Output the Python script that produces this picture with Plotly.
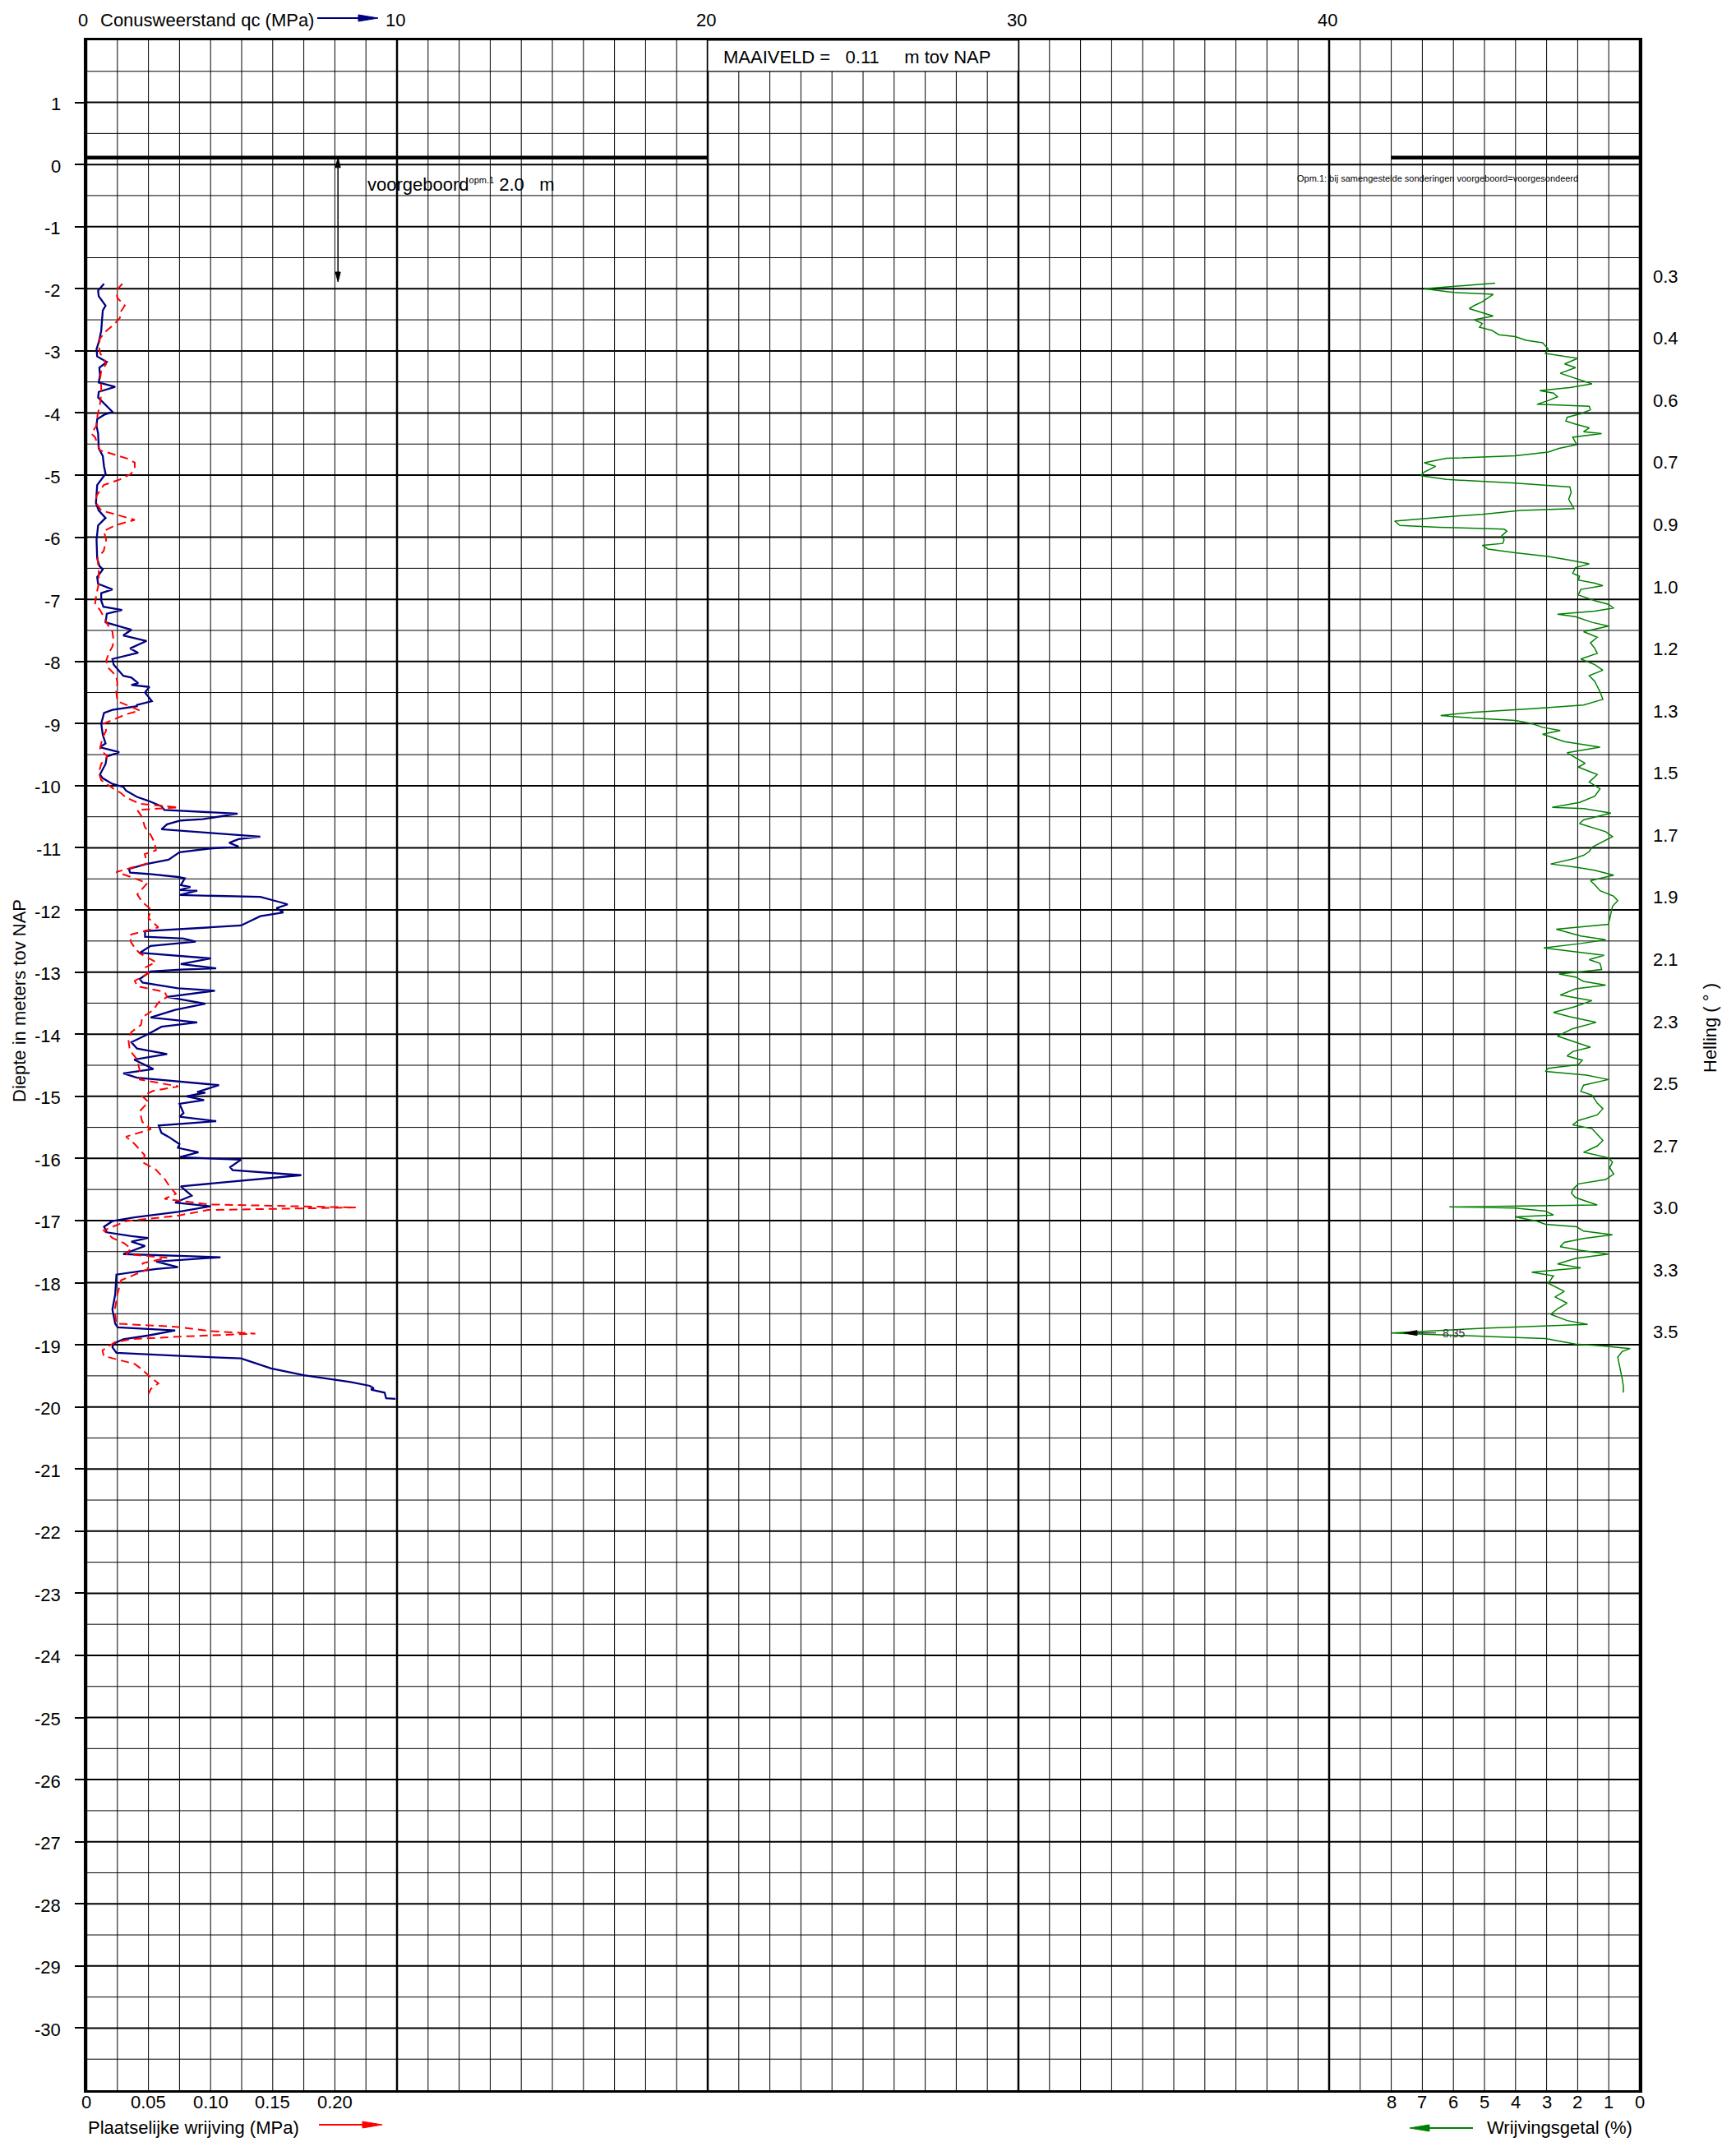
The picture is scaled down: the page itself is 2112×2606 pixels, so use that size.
import plotly.graph_objects as go

# ---------------- sounding data ----------------
# cone resistance qc (MPa) against depth (m tov NAP)
QC_DEPTH = [-1.92, -2.03, -2.12, -2.27, -2.35, -2.68, -2.86, -2.97, -3.09, -3.18,
            -3.27, -3.39, -3.51, -3.58, -3.66, -3.75, -3.98, -4.03, -4.10, -4.21,
            -4.33, -4.57, -4.69, -4.86, -4.98, -5.16, -5.45, -5.57, -5.69, -5.81,
            -6.04, -6.34, -6.46, -6.52, -6.64, -6.75, -6.84, -6.90, -7.02, -7.12,
            -7.17, -7.23, -7.37, -7.49, -7.58, -7.67, -7.79, -7.86, -7.96, -8.05,
            -8.23, -8.26, -8.35, -8.38, -8.41, -8.50, -8.64, -8.70, -8.72, -8.78,
            -8.83, -9.00, -9.18, -9.32, -9.38, -9.46, -9.53, -9.65, -9.82, -9.88,
            -9.97, -10.02, -10.08, -10.18, -10.24, -10.33, -10.39, -10.45, -10.54, -10.56,
            -10.62, -10.70, -10.76, -10.82, -10.86, -10.92, -10.98, -11.01, -11.07, -11.19,
            -11.26, -11.34, -11.40, -11.42, -11.47, -11.49, -11.60, -11.63, -11.68, -11.69,
            -11.76, -11.79, -11.87, -11.91, -11.97, -12.04, -12.10, -12.25, -12.28, -12.34,
            -12.43, -12.46, -12.51, -12.58, -12.69, -12.78, -12.87, -12.94, -12.96, -12.99,
            -13.11, -13.17, -13.26, -13.30, -13.40, -13.51, -13.61, -13.73, -13.81, -13.88,
            -14.00, -14.13, -14.23, -14.32, -14.41, -14.56, -14.63, -14.70, -14.82, -14.93,
            -14.94, -15.00, -15.06, -15.12, -15.27, -15.33, -15.40, -15.47, -15.59, -15.65,
            -15.77, -15.83, -15.90, -15.98, -16.02, -16.14, -16.19, -16.27, -16.45, -16.60,
            -16.71, -16.77, -16.86, -16.95, -17.01, -17.10, -17.19, -17.25, -17.28, -17.34,
            -17.41, -17.54, -17.59, -17.66, -17.75, -17.78, -17.81, -17.87, -18.19, -18.43,
            -18.66, -18.72, -18.77, -18.85, -18.91, -18.98, -19.04, -19.13, -19.18, -19.22,
            -19.38, -19.49, -19.60, -19.66, -19.70, -19.72, -19.77, -19.86, -19.87]
QC_MPA = [0.57, 0.38, 0.40, 0.62, 0.53, 0.48, 0.40, 0.33, 0.35, 0.66,
          0.42, 0.44, 0.40, 0.93, 0.40, 0.38, 0.84, 0.57, 0.35, 0.33,
          0.38, 0.40, 0.53, 0.57, 0.62, 0.35, 0.31, 0.40, 0.62, 0.38,
          0.33, 0.35, 0.42, 0.53, 0.35, 0.38, 0.84, 0.48, 0.48, 0.55,
          1.15, 0.66, 0.62, 1.45, 1.19, 1.94, 1.41, 1.67, 0.84, 0.88,
          1.19, 1.45, 1.67, 1.45, 2.03, 1.89, 2.11, 1.63, 1.63, 0.84,
          0.57, 0.48, 0.53, 0.62, 0.44, 1.06, 0.66, 0.62, 0.44, 0.53,
          0.84, 1.19, 1.28, 1.63, 1.98, 2.42, 2.51, 4.87, 3.74, 3.04,
          2.60, 2.42, 4.00, 5.60, 4.90, 4.60, 4.90, 4.00, 3.00, 2.65,
          1.94, 1.37, 1.41, 1.98, 2.96, 3.17, 3.04, 3.35, 3.00, 3.57,
          3.00, 5.60, 6.20, 6.48, 6.12, 6.34, 5.60, 4.98, 4.00, 1.89,
          1.89, 3.13, 3.52, 2.07, 1.72, 4.00, 3.04, 4.18, 3.04, 2.07,
          1.72, 1.81, 2.95, 4.14, 2.60, 3.83, 2.86, 2.07, 3.57, 2.42,
          1.98, 1.45, 1.63, 2.60, 1.54, 2.16, 1.19, 1.63, 4.27, 3.57,
          3.83, 3.22, 3.79, 3.00, 3.13, 3.00, 4.18, 2.33, 2.42, 2.64,
          3.00, 2.95, 3.61, 3.00, 4.98, 4.63, 4.71, 6.92, 3.04, 3.39,
          2.86, 4.00, 2.95, 1.54, 0.84, 0.57, 0.66, 1.45, 1.98, 1.45,
          1.89, 1.19, 4.32, 2.25, 2.95, 2.25, 1.81, 0.97, 0.93, 0.84,
          0.93, 1.01, 2.86, 2.00, 1.19, 0.88, 0.84, 0.97, 3.04, 4.98,
          5.95, 7.00, 8.50, 9.12, 9.25, 9.16, 9.60, 9.65, 9.95]

# local sleeve friction fs (MPa)
FS_DEPTH = [-1.92, -2.03, -2.15, -2.27, -2.36, -2.47, -2.56, -2.68, -2.80, -2.91,
            -3.03, -3.21, -3.33, -3.45, -3.57, -3.69, -3.86, -4.04, -4.21, -4.33,
            -4.39, -4.51, -4.60, -4.66, -4.74, -4.80, -4.89, -4.98, -5.07, -5.16,
            -5.34, -5.45, -5.57, -5.63, -5.72, -5.81, -5.90, -6.04, -6.22, -6.34,
            -6.52, -6.75, -6.93, -7.08, -7.17, -7.28, -7.40, -7.52, -7.67, -7.76,
            -7.87, -7.99, -8.11, -8.23, -8.35, -8.47, -8.64, -8.73, -8.79, -8.85,
            -8.94, -9.00, -9.11, -9.23, -9.41, -9.53, -9.65, -9.79, -9.91, -10.05,
            -10.12, -10.19, -10.29, -10.35, -10.39, -10.51, -10.66, -10.80, -10.92, -11.04,
            -11.10, -11.25, -11.39, -11.47, -11.57, -11.75, -11.87, -11.99, -12.13, -12.28,
            -12.34, -12.40, -12.52, -12.61, -12.70, -12.84, -12.93, -13.02, -13.14, -13.23,
            -13.32, -13.40, -13.49, -13.61, -13.73, -13.85, -13.97, -14.11, -14.26, -14.41,
            -14.59, -14.73, -14.84, -14.91, -15.00, -15.09, -15.24, -15.41, -15.53, -15.65,
            -15.77, -15.95, -16.06, -16.18, -16.33, -16.45, -16.57, -16.65, -16.74, -16.79,
            -16.83, -16.92, -17.01, -17.16, -17.28, -17.36, -17.45, -17.54, -17.60, -17.69,
            -17.78, -17.87, -17.96, -18.19, -18.43, -18.66, -18.71, -18.78, -18.82, -18.87,
            -18.91, -18.96, -19.04, -19.09, -19.18, -19.24, -19.31, -19.40, -19.53, -19.62,
            -19.71, -19.79]
FS_MPA = [0.029, 0.024, 0.025, 0.031, 0.028, 0.027, 0.023, 0.016, 0.011, 0.010,
          0.011, 0.016, 0.012, 0.011, 0.012, 0.012, 0.011, 0.009, 0.008, 0.004,
          0.007, 0.009, 0.011, 0.021, 0.034, 0.039, 0.039, 0.036, 0.027, 0.014,
          0.008, 0.008, 0.012, 0.023, 0.039, 0.023, 0.014, 0.016, 0.014, 0.009,
          0.010, 0.010, 0.008, 0.007, 0.011, 0.014, 0.017, 0.021, 0.022, 0.021,
          0.018, 0.016, 0.018, 0.024, 0.025, 0.024, 0.025, 0.036, 0.043, 0.032,
          0.021, 0.014, 0.016, 0.013, 0.011, 0.017, 0.012, 0.010, 0.012, 0.022,
          0.028, 0.032, 0.043, 0.074, 0.041, 0.045, 0.047, 0.052, 0.055, 0.056,
          0.047, 0.049, 0.024, 0.036, 0.049, 0.041, 0.045, 0.052, 0.050, 0.058,
          0.047, 0.035, 0.036, 0.039, 0.043, 0.056, 0.047, 0.050, 0.039, 0.041,
          0.063, 0.065, 0.058, 0.054, 0.045, 0.044, 0.036, 0.034, 0.035, 0.041,
          0.043, 0.043, 0.074, 0.054, 0.045, 0.050, 0.043, 0.045, 0.052, 0.032,
          0.039, 0.047, 0.045, 0.056, 0.063, 0.067, 0.072, 0.063, 0.098, 0.217,
          0.098, 0.074, 0.032, 0.014, 0.021, 0.030, 0.036, 0.032, 0.065, 0.045,
          0.050, 0.039, 0.028, 0.025, 0.023, 0.024, 0.072, 0.100, 0.136, 0.074,
          0.036, 0.023, 0.017, 0.013, 0.014, 0.025, 0.039, 0.045, 0.052, 0.058,
          0.052, 0.050]

# friction ratio Rf (%)
RF_DEPTH = [-1.91, -2.00, -2.06, -2.09, -2.21, -2.27, -2.32, -2.38, -2.44, -2.50,
            -2.56, -2.62, -2.67, -2.74, -2.77, -2.83, -2.87, -2.92, -2.97, -3.04,
            -3.12, -3.21, -3.27, -3.36, -3.45, -3.53, -3.59, -3.64, -3.68, -3.74,
            -3.80, -3.86, -3.89, -3.95, -4.01, -4.07, -4.13, -4.18, -4.24, -4.30,
            -4.33, -4.39, -4.51, -4.57, -4.63, -4.69, -4.73, -4.80, -4.86, -4.95,
            -5.01, -5.07, -5.13, -5.19, -5.28, -5.39, -5.54, -5.57, -5.63, -5.68,
            -5.74, -5.81, -5.84, -5.87, -5.90, -5.98, -6.04, -6.10, -6.13, -6.19,
            -6.25, -6.31, -6.37, -6.43, -6.49, -6.58, -6.63, -6.69, -6.74, -6.78,
            -6.84, -6.93, -7.02, -7.08, -7.14, -7.19, -7.24, -7.28, -7.37, -7.43,
            -7.52, -7.61, -7.70, -7.79, -7.87, -7.96, -8.05, -8.14, -8.23, -8.32,
            -8.40, -8.49, -8.61, -8.70, -8.76, -8.82, -8.87, -8.91, -8.95, -9.00,
            -9.06, -9.11, -9.17, -9.23, -9.29, -9.38, -9.47, -9.55, -9.64, -9.70,
            -9.82, -9.94, -10.05, -10.17, -10.27, -10.35, -10.37, -10.44, -10.55, -10.61,
            -10.68, -10.74, -10.82, -10.90, -10.99, -11.06, -11.12, -11.18, -11.26, -11.31,
            -11.36, -11.44, -11.53, -11.59, -11.69, -11.78, -11.85, -11.94, -12.07, -12.16,
            -12.23, -12.31, -12.42, -12.48, -12.54, -12.61, -12.67, -12.73, -12.80, -12.86,
            -12.96, -13.00, -13.03, -13.08, -13.15, -13.21, -13.27, -13.37, -13.43, -13.46,
            -13.56, -13.65, -13.72, -13.81, -13.91, -14.03, -14.13, -14.21, -14.28, -14.35,
            -14.42, -14.49, -14.55, -14.60, -14.66, -14.73, -14.82, -14.92, -14.98, -15.11,
            -15.20, -15.30, -15.39, -15.46, -15.52, -15.61, -15.71, -15.80, -15.90, -15.99,
            -16.06, -16.15, -16.25, -16.34, -16.41, -16.50, -16.56, -16.63, -16.75, -16.78,
            -16.80, -16.85, -16.91, -16.94, -17.01, -17.06, -17.10, -17.17, -17.23, -17.29,
            -17.35, -17.42, -17.48, -17.54, -17.61, -17.70, -17.76, -17.83, -17.89, -18.01,
            -18.14, -18.23, -18.33, -18.42, -18.51, -18.61, -18.67, -18.73, -18.77, -18.81,
            -18.87, -18.90, -18.99, -19.02, -19.06, -19.11, -19.20, -19.30, -19.42, -19.54,
            -19.67, -19.77]
RF_PCT = [4.66, 6.94, 6.00, 4.72, 5.07, 5.33, 5.49, 5.07, 4.72, 5.33,
          5.07, 5.16, 4.76, 4.54, 4.01, 3.66, 3.13, 3.04, 2.95, 3.04,
          2.00, 2.42, 2.07, 2.56, 2.03, 1.54, 2.25, 3.22, 2.78, 2.65,
          2.95, 3.31, 1.63, 1.59, 1.90, 2.34, 2.38, 2.07, 1.63, 1.81,
          1.23, 2.16, 2.03, 2.60, 2.95, 4.01, 6.22, 6.94, 6.57, 6.94,
          7.05, 6.22, 4.01, 2.25, 2.21, 2.29, 2.12, 3.84, 5.07, 6.48,
          7.89, 7.72, 6.48, 4.37, 4.28, 4.45, 4.37, 4.41, 5.07, 4.89,
          4.01, 2.95, 2.25, 1.63, 2.07, 2.16, 1.94, 1.98, 1.45, 1.19,
          1.90, 1.98, 1.45, 1.01, 0.84, 1.45, 2.65, 2.07, 1.54, 1.01,
          1.81, 1.37, 1.59, 1.45, 1.37, 1.90, 1.45, 1.19, 1.63, 1.45,
          1.37, 1.28, 1.19, 1.81, 3.48, 5.42, 6.41, 5.42, 4.01, 3.48,
          3.13, 2.56, 3.13, 2.78, 2.43, 1.28, 2.34, 2.07, 1.76, 1.98,
          1.37, 1.63, 1.28, 1.45, 1.94, 2.82, 1.80, 0.93, 1.81, 1.94,
          1.46, 1.10, 0.88, 1.19, 1.54, 1.63, 1.81, 2.16, 2.87, 2.07,
          1.46, 0.84, 1.59, 1.46, 1.28, 0.84, 0.71, 0.88, 0.93, 0.97,
          1.01, 2.69, 1.90, 1.10, 1.90, 3.09, 2.07, 1.15, 1.63, 1.28,
          1.23, 2.07, 2.60, 2.07, 1.81, 1.10, 2.07, 2.56, 1.90, 1.54,
          2.11, 2.78, 2.25, 1.41, 2.16, 2.65, 2.07, 1.59, 2.16, 2.34,
          1.85, 1.98, 2.95, 3.04, 1.72, 1.01, 1.81, 1.90, 1.54, 1.37,
          1.19, 1.37, 1.98, 2.16, 1.54, 1.37, 1.19, 1.37, 1.81, 1.01,
          0.88, 0.97, 0.84, 1.10, 1.98, 2.16, 2.20, 2.07, 1.37, 6.13,
          4.01, 3.04, 2.78, 4.01, 3.31, 3.04, 2.03, 1.81, 0.88, 1.81,
          2.43, 2.56, 1.90, 1.01, 2.07, 2.65, 1.90, 3.48, 2.78, 2.95,
          2.43, 2.73, 2.34, 2.65, 2.87, 2.34, 1.68, 4.89, 6.48, 8.35,
          4.72, 3.04, 2.07, 1.19, 0.31, 0.57, 0.71, 0.66, 0.62, 0.57,
          0.53, 0.53]

# inclination (degrees) read per metre
HELLING_DEPTH = [-2, -3, -4, -5, -6, -7, -8, -9, -10, -11, -12, -13, -14, -15, -16, -17, -18, -19]
HELLING_DEG = ["0.3", "0.4", "0.6", "0.7", "0.9", "1.0", "1.2", "1.3", "1.5", "1.7",
               "1.9", "2.1", "2.3", "2.5", "2.7", "3.0", "3.3", "3.5"]

# axis labelling
DEPTH_TICKS = list(range(1, -31, -1))
QC_TICKS = [0, 10, 20, 30, 40]
FS_TICKS = [0, 0.05, 0.10, 0.15, 0.20]
FS_TICK_TEXT = ["0", "0.05", "0.10", "0.15", "0.20"]
RF_TICKS = [8, 7, 6, 5, 4, 3, 2, 1, 0]

MAAIVELD = 0.11        # ground level, m tov NAP
VOORGEBOORD = 2.0      # pre-drilled depth, m

# ---------------- scales ----------------
QC_MAX = 50            # chart width in MPa of cone resistance
FS_SCALE = 40          # 0.25 MPa sleeve friction spans 10 MPa
RF_MAX = 8             # Rf axis runs 8 % .. 0 % on the right (1 % per MPa)
DEPTH_TOP, DEPTH_BOTTOM = 2, -31

FONT = "Liberation Sans, Arial, Helvetica, sans-serif"
W, H = 2112, 2606
ML, MR, MT, MB = 105, 117, 49, 63
PW = W - ML - MR
PH = H - MT - MB


def rf_x(v):
    return QC_MAX - min(v, RF_MAX)


# page-pixel helpers for decorations drawn in paper coordinates
def px_from_qc(q):
    return ML + q / QC_MAX * PW


def py_from_depth(d):
    return MT + (DEPTH_TOP - d) / (DEPTH_TOP - DEPTH_BOTTOM) * PH


def to_paper(px, py):
    return (px - ML) / PW, (H - MB - py) / PH


fig = go.Figure()

fig.add_trace(go.Scatter(x=QC_MPA, y=QC_DEPTH, mode="lines",
                         line=dict(color="#000080", width=2.3), hoverinfo="skip"))
fig.add_trace(go.Scatter(x=[v * FS_SCALE for v in FS_MPA], y=FS_DEPTH, mode="lines",
                         line=dict(color="#ff0000", width=2, dash="10px,6px"), hoverinfo="skip"))
fig.add_trace(go.Scatter(x=[rf_x(v) for v in RF_PCT], y=RF_DEPTH, mode="lines",
                         line=dict(color="#008000", width=1.5), hoverinfo="skip"))

# ---------------- grid ----------------
shapes = []
for i in range(0, QC_MAX + 1):
    shapes.append(dict(type="line", xref="x", yref="y", x0=i, x1=i, y0=DEPTH_BOTTOM, y1=DEPTH_TOP,
                       layer="below", line=dict(color="#000", width=2.5 if i % 10 == 0 else 1)))
for k in range(2 * DEPTH_BOTTOM + 1, 2 * DEPTH_TOP):
    d = k / 2
    shapes.append(dict(type="line", xref="x", yref="y", x0=0, x1=QC_MAX, y0=d, y1=d,
                       layer="below", line=dict(color="#000", width=2 if k % 2 == 0 else 1)))
# header box
shapes.append(dict(type="rect", xref="x", yref="y", x0=20, x1=30, y0=1.5, y1=DEPTH_TOP,
                   layer="below", fillcolor="white", line=dict(color="#000", width=1)))
# ground level
for x0, x1 in [(0, 20), (42, 50)]:
    shapes.append(dict(type="line", xref="x", yref="y", x0=x0, x1=x1, y0=MAAIVELD, y1=MAAIVELD,
                       layer="above", line=dict(color="#000", width=4.5)))


def arrow_px(tail, tip, color, width=2, head_len=22, head_half=4):
    """Straight arrow between two page-pixel points, head at `tip`."""
    (tx, ty), (hx, hy) = tail, tip
    dx, dy = hx - tx, hy - ty
    n = (dx * dx + dy * dy) ** 0.5
    ux, uy = dx / n, dy / n
    bx, by = hx - ux * head_len, hy - uy * head_len
    c1 = (bx - uy * head_half, by + ux * head_half)
    c2 = (bx + uy * head_half, by - ux * head_half)
    p_tail, p_base = to_paper(tx, ty), to_paper(bx, by)
    shapes.append(dict(type="line", xref="paper", yref="paper", x0=p_tail[0], y0=p_tail[1],
                       x1=p_base[0], y1=p_base[1], layer="above",
                       line=dict(color=color, width=width)))
    pts = [to_paper(hx, hy), to_paper(*c1), to_paper(*c2)]
    path = "M {:.6f} {:.6f} L {:.6f} {:.6f} L {:.6f} {:.6f} Z".format(*pts[0], *pts[1], *pts[2])
    shapes.append(dict(type="path", xref="paper", yref="paper", path=path, layer="above",
                       fillcolor=color, line=dict(color=color, width=1)))


ann = []


def txt(text, x, y, xref="x", yref="y", size=22, xanchor="center", yanchor="middle",
        xshift=0, yshift=0, angle=0, color="#000"):
    ann.append(dict(text=text, x=x, y=y, xref=xref, yref=yref, showarrow=False,
                    xanchor=xanchor, yanchor=yanchor, xshift=xshift, yshift=yshift,
                    textangle=angle, font=dict(family=FONT, size=size, color=color)))


# depth labels
for d in DEPTH_TICKS:
    txt(str(d), 0, d, xref="paper", xanchor="right", xshift=-29, yshift=-2)

# top qc scale
for q in QC_TICKS:
    txt(str(q), q, 1, yref="paper", yshift=25, xshift=-4 if q == 0 else -2)
txt("Conusweerstand qc (MPa)", 0, 1, xref="paper", yref="paper", xanchor="left",
    xshift=15, yshift=25)
arrow_px((386, 22), (460, 22), "#000080", width=2, head_len=24, head_half=4)

# bottom friction scale
for f, t in zip(FS_TICKS, FS_TICK_TEXT):
    txt(t, f * FS_SCALE, 0, yref="paper", yshift=-14)
txt("Plaatselijke wrijving (MPa)", 0, 0, xref="paper", yref="paper", xanchor="left",
    yshift=-45)
arrow_px((388, 2585), (465, 2585), "#ff0000", width=2, head_len=24, head_half=4)

# bottom Rf scale
for r in RF_TICKS:
    txt(str(r), rf_x(r), 0, yref="paper", yshift=-14)
txt("Wrijvingsgetal (%)", 1, 0, xref="paper", yref="paper", xanchor="right",
    xshift=-7, yshift=-45)
arrow_px((1792, 2589), (1715, 2589), "#008000", width=2, head_len=24, head_half=4)

# off-scale Rf values
for d, v in zip(RF_DEPTH, RF_PCT):
    if v > RF_MAX:
        py = py_from_depth(d)
        arrow_px((1747, py), (1708, py), "#000", width=1, head_len=16, head_half=3)
        txt(f"{v:.2f}", 44.0, d, size=14, color="#333")

# axis titles
txt("Diepte in meters tov NAP", 0, (H - MB - 1218) / PH, xref="paper", yref="paper",
    xshift=-82, angle=-90)
txt("Helling ( ° )", 1, (H - MB - 1251) / PH, xref="paper", yref="paper",
    xshift=85, angle=-90)

# inclination values
for d, h in zip(HELLING_DEPTH, HELLING_DEG):
    txt(h, 1, d + 0.2, xref="paper", xshift=31)

# header and remarks
txt(f"MAAIVELD =&nbsp;&nbsp; {MAAIVELD:.2f}&nbsp;&nbsp;&nbsp;&nbsp; m tov NAP", 24.8, 1.73)

# pre-drilled interval: double arrow from ground level down
vx = px_from_qc(8.1)
y_top, y_bot = py_from_depth(MAAIVELD), py_from_depth(MAAIVELD - VOORGEBOORD)
y_mid = (y_top + y_bot) / 2
arrow_px((vx, y_mid), (vx, y_top), "#000", width=1.5, head_len=12, head_half=3)
arrow_px((vx, y_mid), (vx, y_bot), "#000", width=1.5, head_len=12, head_half=3)
txt(f"voorgeboord<sup><span style='font-size:11px'>opm.1</span></sup> {VOORGEBOORD:.1f}&nbsp;&nbsp; m",
    9.0, -0.32, xanchor="left")
txt("Opm.1: bij samengestelde sonderingen voorgeboord=voorgesondeerd", 43.5, -0.225, size=11)

axis_common = dict(showgrid=False, zeroline=False, showline=True, mirror=True,
                   linecolor="#000", linewidth=3)

fig.update_layout(
    width=W, height=H,
    margin=dict(l=ML, r=MR, t=MT, b=MB),
    paper_bgcolor="white", plot_bgcolor="white",
    showlegend=False,
    font=dict(family=FONT, size=22, color="#000"),
    xaxis=dict(range=[0, QC_MAX], showticklabels=False, ticks="", **axis_common),
    yaxis=dict(range=[DEPTH_BOTTOM, DEPTH_TOP], tickmode="array", tickvals=DEPTH_TICKS,
               ticks="outside", ticklen=11, tickwidth=2, tickcolor="#000",
               showticklabels=False, **axis_common),
    shapes=shapes,
    annotations=ann,
)

fig.write_html("out.html")
